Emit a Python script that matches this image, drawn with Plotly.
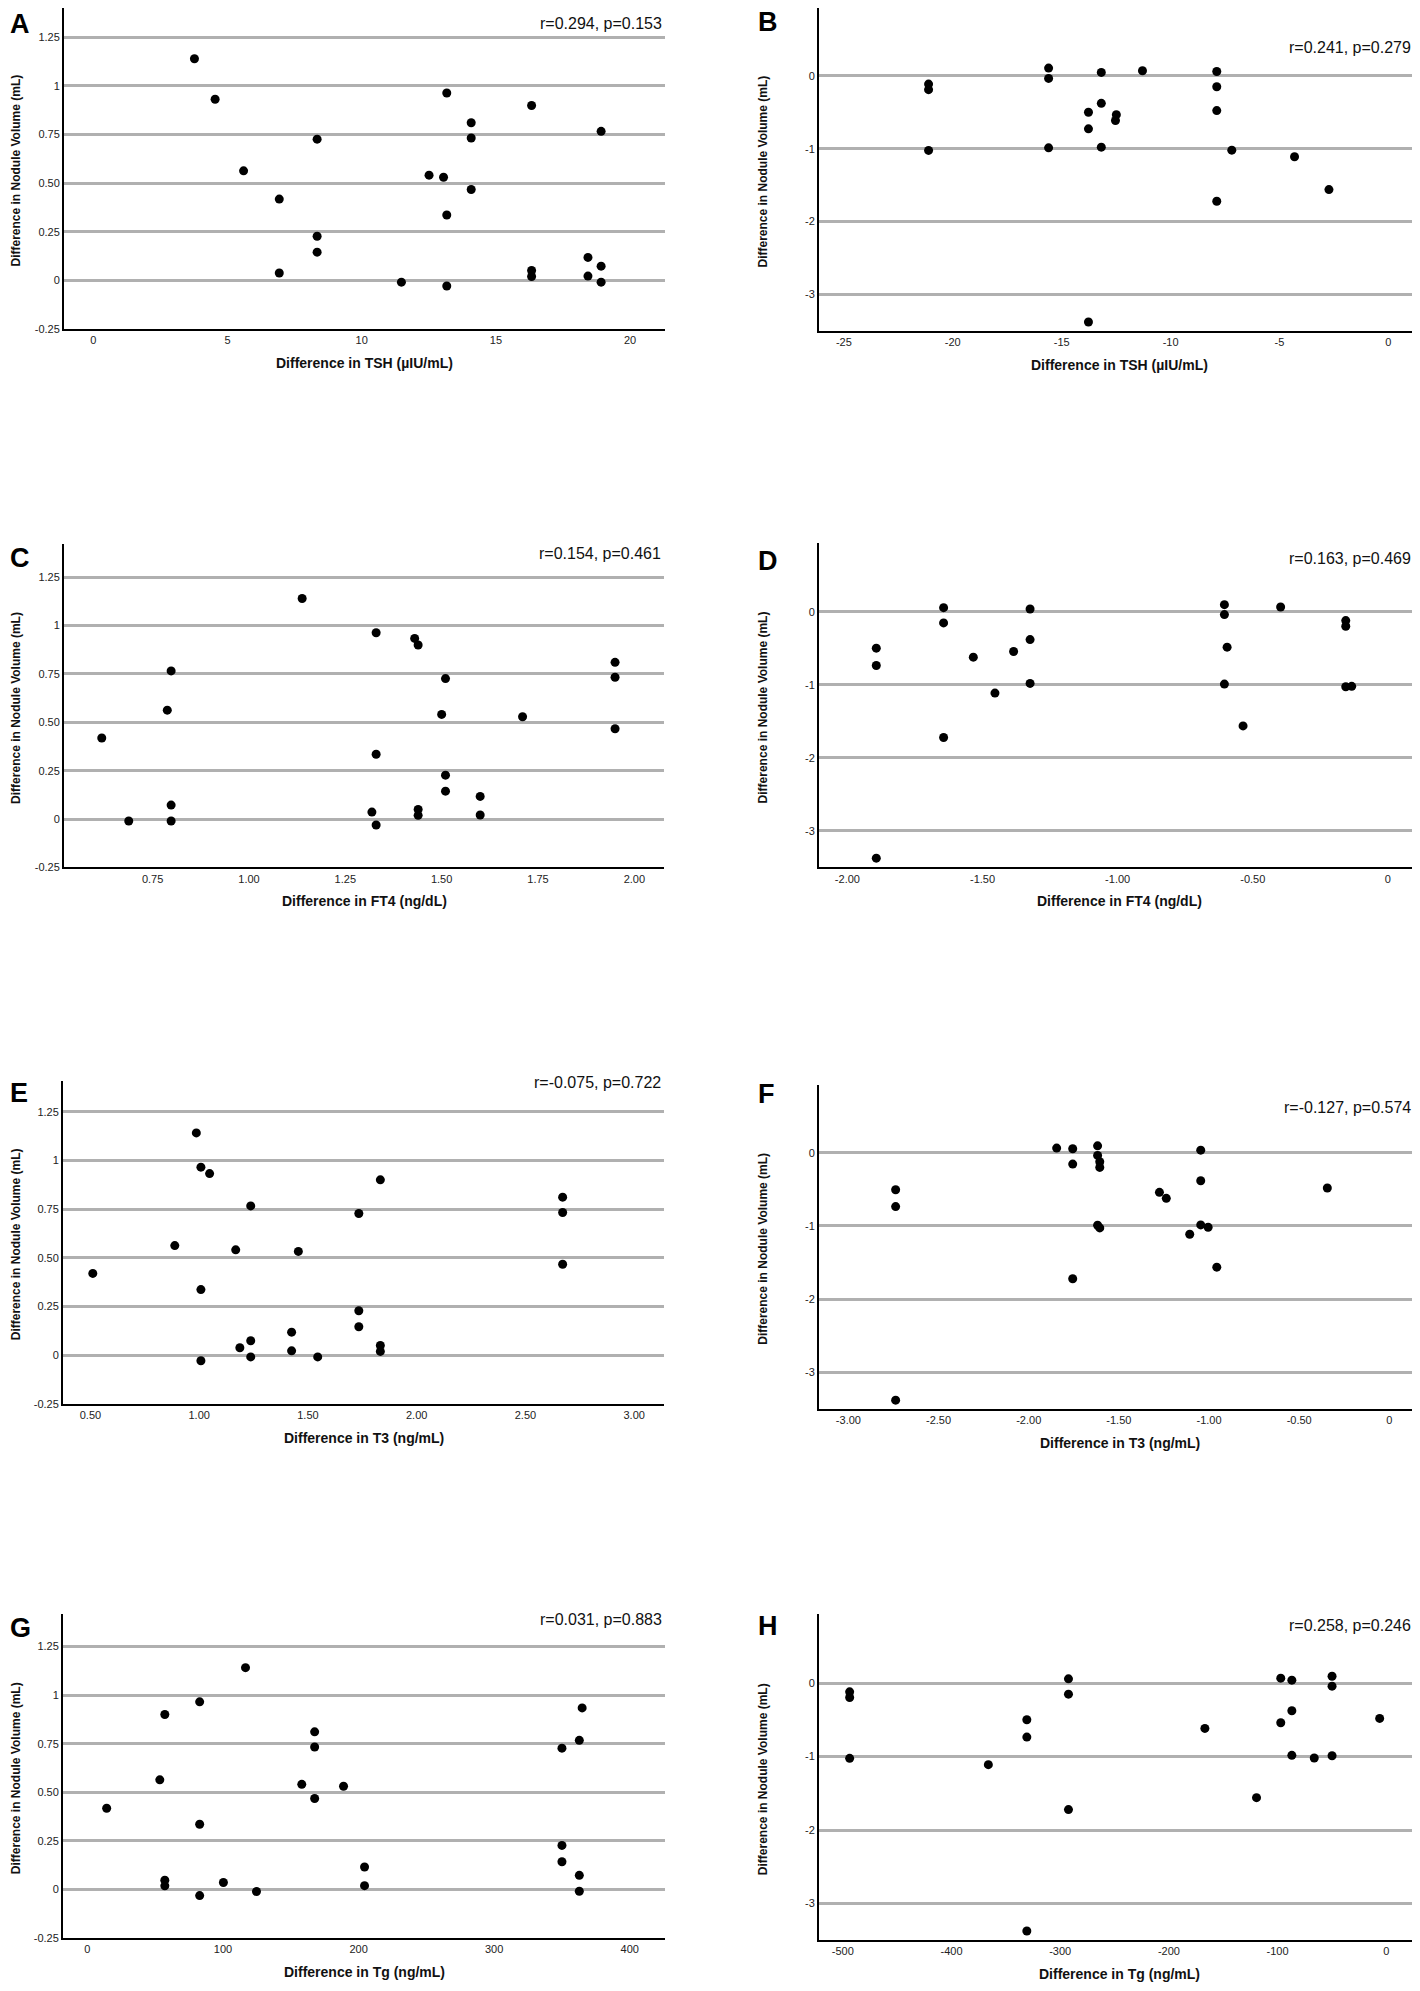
import plotly.graph_objects as go

W, H = 1420, 1991
OFF = 8  # page body margin of the browser

# ---------------- data ----------------
# A: TSH difference (positive group) vs nodule volume difference
a_x = [3.77, 4.54, 5.60, 6.93, 6.93, 8.34, 8.34, 8.34, 11.48, 12.51, 13.05, 13.17, 13.17, 13.17,
       14.08, 14.08, 14.08, 16.33, 16.33, 16.33, 18.43, 18.43, 18.92, 18.92, 18.92]
a_y = [1.139, 0.931, 0.563, 0.418, 0.038, 0.726, 0.227, 0.145, -0.009, 0.541, 0.530, 0.963, 0.336, -0.029,
       0.810, 0.732, 0.467, 0.899, 0.051, 0.020, 0.118, 0.022, 0.766, 0.073, -0.009]

# B: TSH difference (negative group)
b_x = [-21.11, -21.11, -21.11, -15.60, -15.60, -15.60, -13.77, -13.77, -13.77, -13.18, -13.18, -13.18,
       -12.49, -12.53, -11.29, -7.88, -7.88, -7.88, -7.88, -7.19, -4.31, -2.73]
b_y = [-0.114, -0.191, -1.024, 0.105, -0.036, -0.988, -0.501, -0.728, -3.377, 0.046, -0.378, -0.979,
       -0.533, -0.614, 0.068, 0.059, -0.150, -0.478, -1.721, -1.020, -1.111, -1.561]

# C: FT4 difference (positive group)
c_x = [0.618, 0.688, 0.788, 0.798, 0.798, 0.798, 1.138, 1.319, 1.330, 1.330, 1.330, 1.430, 1.439,
       1.439, 1.439, 1.500, 1.510, 1.510, 1.510, 1.600, 1.600, 1.710, 1.950, 1.950, 1.950]
c_y = [0.419, -0.010, 0.563, 0.766, 0.072, -0.010, 1.140, 0.036, 0.963, 0.335, -0.031, 0.934, 0.900,
       0.050, 0.019, 0.541, 0.726, 0.227, 0.144, 0.117, 0.021, 0.529, 0.810, 0.733, 0.467]

# D: FT4 difference (negative group)
d_x = [-1.893, -1.893, -1.893, -1.644, -1.644, -1.644, -1.534, -1.454, -1.385, -1.324, -1.324, -1.324,
       -0.605, -0.605, -0.605, -0.595, -0.536, -0.397, -0.156, -0.156, -0.156, -0.134]
d_y = [-0.496, -0.733, -3.373, 0.059, -0.150, -1.720, -0.619, -1.111, -0.542, 0.041, -0.378, -0.979,
       0.100, -0.036, -0.988, -0.482, -1.561, 0.068, -0.118, -0.196, -1.024, -1.019]

# E: T3 difference (positive group)
e_x = [0.511, 0.888, 0.987, 1.008, 1.008, 1.008, 1.048, 1.168, 1.187, 1.237, 1.237, 1.237, 1.425,
       1.425, 1.456, 1.545, 1.734, 1.734, 1.734, 1.833, 1.833, 1.833, 2.671, 2.671, 2.671]
e_y = [0.420, 0.563, 1.142, 0.966, 0.337, -0.029, 0.933, 0.541, 0.038, 0.767, 0.074, -0.009, 0.118,
       0.022, 0.533, -0.009, 0.728, 0.228, 0.146, 0.901, 0.050, 0.019, 0.812, 0.733, 0.467]

# F: T3 difference (negative group)
f_x = [-2.738, -2.738, -2.738, -1.845, -1.756, -1.756, -1.756, -1.618, -1.618, -1.606, -1.606, -1.618,
       -1.606, -1.275, -1.237, -1.107, -1.046, -1.046, -1.046, -1.005, -0.957, -0.344]
f_y = [-0.505, -0.736, -3.382, 0.064, 0.055, -0.155, -1.723, 0.095, -0.036, -0.123, -0.200, -0.991,
       -1.027, -0.541, -0.623, -1.114, 0.036, -0.382, -0.986, -1.018, -1.564, -0.482]

# G: Tg difference (positive group)
g_x = [14.2, 53.4, 57.1, 57.1, 57.1, 82.8, 82.8, 82.8, 100.3, 116.6, 124.7, 158.1, 167.6, 167.6,
       167.6, 188.9, 204.4, 204.4, 350.0, 350.0, 350.0, 362.8, 362.8, 362.8, 364.9]
g_y = [0.418, 0.564, 0.900, 0.048, 0.019, 0.965, 0.336, -0.031, 0.036, 1.141, -0.010, 0.541, 0.811,
       0.733, 0.468, 0.531, 0.116, 0.020, 0.727, 0.227, 0.143, 0.767, 0.073, -0.009, 0.934]

# H: Tg difference (negative group)
h_x = [-493.7, -493.7, -493.7, -366.1, -330.7, -330.7, -330.7, -292.4, -292.4, -292.4, -166.9, -119.4,
       -97.1, -97.1, -86.9, -86.9, -86.9, -66.3, -49.9, -49.9, -49.9, -6.1]
h_y = [-0.118, -0.195, -1.024, -1.110, -0.498, -0.734, -3.376, 0.059, -0.150, -1.722, -0.616, -1.559,
       0.068, -0.539, 0.041, -0.376, -0.983, -1.019, 0.095, -0.041, -0.988, -0.480]

# correlation labels
stats = ["r=0.294, p=0.153", "r=0.241, p=0.279", "r=0.154, p=0.461", "r=0.163, p=0.469",
         "r=-0.075, p=0.722", "r=-0.127, p=0.574", "r=0.031, p=0.883", "r=0.258, p=0.246"]
letters = ["A", "B", "C", "D", "E", "F", "G", "H"]
x_titles = ["Difference in TSH (µIU/mL)", "Difference in TSH (µIU/mL)",
            "Difference in FT4 (ng/dL)", "Difference in FT4 (ng/dL)",
            "Difference in T3 (ng/mL)", "Difference in T3 (ng/mL)",
            "Difference in Tg (ng/mL)", "Difference in Tg (ng/mL)"]
y_title = "Difference in Nodule Volume (mL)"

# tick values / labels
pos_y_ticks = [-0.25, 0, 0.25, 0.5, 0.75, 1, 1.25]
pos_y_text = ["-0.25", "0", "0.25", "0.50", "0.75", "1", "1.25"]
neg_y_ticks = [-3, -2, -1, 0]
neg_y_text = ["-3", "-2", "-1", "0"]
tsh_pos_ticks = [0, 5, 10, 15, 20]
tsh_pos_text = ["0", "5", "10", "15", "20"]
tsh_neg_ticks = [-25, -20, -15, -10, -5, 0]
tsh_neg_text = ["-25", "-20", "-15", "-10", "-5", "0"]
ft4_pos_ticks = [0.75, 1.0, 1.25, 1.5, 1.75, 2.0]
ft4_pos_text = ["0.75", "1.00", "1.25", "1.50", "1.75", "2.00"]
ft4_neg_ticks = [-2.0, -1.5, -1.0, -0.5, 0]
ft4_neg_text = ["-2.00", "-1.50", "-1.00", "-0.50", "0"]
t3_pos_ticks = [0.5, 1.0, 1.5, 2.0, 2.5, 3.0]
t3_pos_text = ["0.50", "1.00", "1.50", "2.00", "2.50", "3.00"]
t3_neg_ticks = [-3.0, -2.5, -2.0, -1.5, -1.0, -0.5, 0]
t3_neg_text = ["-3.00", "-2.50", "-2.00", "-1.50", "-1.00", "-0.50", "0"]
tg_pos_ticks = [0, 100, 200, 300, 400]
tg_pos_text = ["0", "100", "200", "300", "400"]
tg_neg_ticks = [-500, -400, -300, -200, -100, 0]
tg_neg_text = ["-500", "-400", "-300", "-200", "-100", "0"]

# ---------------- layout config (page pixels) ----------------
panels = [
    dict(x=a_x, y=a_y, xt=tsh_pos_ticks, xtt=tsh_pos_text, pos=True,
         box=(64, 665, 8, 330), xr=[-1.09, 21.3], yr=[-0.25, 1.400], sy=24, ly=24),
    dict(x=b_x, y=b_y, xt=tsh_neg_ticks, xtt=tsh_neg_text, pos=False,
         box=(819, 1420, 8, 332), xr=[-26.14, 1.45], yr=[-3.5, 0.929], sy=48, ly=22),
    dict(x=c_x, y=c_y, xt=ft4_pos_ticks, xtt=ft4_pos_text, pos=True,
         box=(64, 664, 546, 870), xr=[0.52, 2.077], yr=[-0.25, 1.42], sy=555, ly=560),
    dict(x=d_x, y=d_y, xt=ft4_neg_ticks, xtt=ft4_neg_text, pos=False,
         box=(819, 1419, 545, 870), xr=[-2.105, 0.115], yr=[-3.5, 0.94], sy=560, ly=563),
    dict(x=e_x, y=e_y, xt=t3_pos_ticks, xtt=t3_pos_text, pos=True,
         box=(63, 664, 1084, 1408), xr=[0.374, 3.137], yr=[-0.25, 1.41], sy=1086, ly=1096),
    dict(x=f_x, y=f_y, xt=t3_neg_ticks, xtt=t3_neg_text, pos=False,
         box=(819, 1420, 1088, 1413), xr=[-3.163, 0.17], yr=[-3.5, 0.93], sy=1111, ly=1097),
    dict(x=g_x, y=g_y, xt=tg_pos_ticks, xtt=tg_pos_text, pos=True,
         box=(63, 665, 1619, 1944), xr=[-18, 426], yr=[-0.25, 1.416], sy=1624, ly=1633),
    dict(x=h_x, y=h_y, xt=tg_neg_ticks, xtt=tg_neg_text, pos=False,
         box=(819, 1420, 1619, 1946), xr=[-521.9, 31], yr=[-3.5, 0.94], sy=1630, ly=1631),
]

NARROW = "Liberation Sans Narrow, Arial Narrow, Liberation Sans, Arial, sans-serif"
SANS = "Liberation Sans, Arial, sans-serif"


def px(v):
    return min(max((v - OFF) / W, 0.0), 1.0)


def py(v):
    return min(max(1 - (v - OFF) / H, 0.0), 1.0)


fig = go.Figure()
layout = dict(
    width=W, height=H, margin=dict(l=0, r=0, t=0, b=0),
    paper_bgcolor="white", plot_bgcolor="white", showlegend=False,
    annotations=[],
)

for i, p in enumerate(panels):
    n = "" if i == 0 else str(i + 1)
    x0, x1, y0, y1 = p["box"]
    left_col = x0 < 400
    fig.add_trace(go.Scatter(
        x=p["x"], y=p["y"], mode="markers", xaxis="x" + n, yaxis="y" + n,
        marker=dict(color="black", size=9, line=dict(width=0)),
        hoverinfo="x+y",
    ))
    yt = pos_y_ticks if p["pos"] else neg_y_ticks
    ytt = pos_y_text if p["pos"] else neg_y_text
    layout["xaxis" + n] = dict(
        domain=[px(x0), px(x1)], anchor="y" + n, range=p["xr"],
        tickmode="array", tickvals=p["xt"], ticktext=p["xtt"],
        showgrid=False, zeroline=False, ticks="",
        showline=True, linecolor="black", linewidth=2,
        tickfont=dict(family=NARROW, size=11, color="#222"),
    )
    layout["yaxis" + n] = dict(
        domain=[py(y1), py(y0)], anchor="x" + n, range=p["yr"],
        tickmode="array", tickvals=yt, ticktext=ytt,
        showgrid=True, gridcolor="#b0b0b0", gridwidth=2.5, zeroline=False, ticks="",
        showline=True, linecolor="black", linewidth=2,
        tickfont=dict(family=NARROW, size=11, color="#222"),
    )
    anns = layout["annotations"]
    # panel letter
    lx = 0 if left_col else 748
    anns.append(dict(text="<b>%s</b>" % letters[i], x=px(lx + OFF), y=py(p["ly"]), xref="paper", yref="paper",
                     xanchor="left", yanchor="middle", showarrow=False,
                     font=dict(family=SANS, size=27, color="black")))
    # stat label
    sx = x1 - 1 if left_col else 1413
    anns.append(dict(text=stats[i], x=px(sx), y=py(p["sy"]), xref="paper", yref="paper",
                     xanchor="right", yanchor="middle", showarrow=False,
                     font=dict(family=NARROW, size=16, color="#111")))
    # x title
    anns.append(dict(text="<b>%s</b>" % x_titles[i], x=px((x0 + x1) / 2), y=py(y1 + 34),
                     xref="paper", yref="paper", xanchor="center", yanchor="middle", showarrow=False,
                     font=dict(family=NARROW, size=14, color="#111")))
    # y title
    ytx = 16 if left_col else 763
    anns.append(dict(text="<b>%s</b>" % y_title, x=px(ytx), y=py((y0 + y1) / 2 + 2),
                     xref="paper", yref="paper", xanchor="center", yanchor="middle", showarrow=False,
                     textangle=-90, font=dict(family=SANS, size=12, color="#111")))

fig.update_layout(**layout)
fig.write_html("out.html")
